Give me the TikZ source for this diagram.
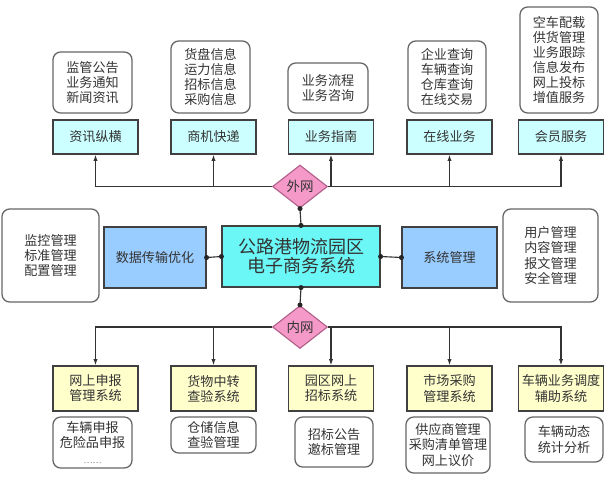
\documentclass[tikz,border=0pt]{standalone}
\usepackage{fontspec}
\setmainfont{Noto Sans CJK SC}
\usetikzlibrary{shapes.geometric,arrows.meta}
\definecolor{headcyan}{HTML}{CCFFFF}
\definecolor{maincyan}{HTML}{6CF7F7}
\definecolor{sideblue}{HTML}{99CCFF}
\definecolor{netpink}{HTML}{F59AC8}
\definecolor{netedge}{HTML}{B0608A}
\definecolor{subyellow}{HTML}{FFFFCC}

\begin{document}
\begin{tikzpicture}[x=0.025cm,y=-0.025cm,
  every node/.style={text=black!80},
  listbox/.style={draw=black!60,line width=0.9pt,rounded corners=5.5pt,fill=white,align=center,inner sep=0pt,font=\fontsize{9.3}{10.7}\selectfont},
  headbox/.style={draw=black!75,line width=0.8pt,fill=headcyan,minimum width=2.125cm,minimum height=0.85cm,inner sep=0pt,align=center,font=\fontsize{9.3}{10.7}\selectfont},
  subbox/.style={headbox,fill=subyellow,minimum height=1.125cm},
  sidebox/.style={draw=black!75,line width=0.8pt,fill=sideblue,minimum height=1.525cm,inner sep=0pt,font=\fontsize{9.3}{10.7}\selectfont},
  netnode/.style={diamond,draw=netedge,line width=0.8pt,fill=netpink,minimum width=1.375cm,minimum height=1.075cm,inner sep=0pt,font=\fontsize{9.6}{10.7}\selectfont},
  link/.style={draw=black!80,line width=0.8pt},
  arr/.style={link,-{Latex[length=4.5pt,width=3pt]}},
  dot/.style={fill=black!85}]

\useasboundingbox (0,0) rectangle (610,480);

% top row
\node[listbox,minimum width=1.975cm,minimum height=1.525cm] (t1) at (92.5,82.5) {监管公告\\业务通知\\新闻资讯};
\node[listbox,minimum width=1.975cm,minimum height=1.8cm] (t2) at (210.5,77) {货盘信息\\运力信息\\招标信息\\采购信息};
\node[listbox,minimum width=2cm,minimum height=1.25cm] (t3) at (328,88) {业务流程\\业务咨询};
\node[listbox,minimum width=1.95cm,minimum height=1.8cm] (t4) at (447,77) {企业查询\\车辆查询\\仓库查询\\在线交易};
\node[listbox,minimum width=1.95cm,minimum height=2.65cm] (t5) at (559,60) {空车配载\\供货管理\\业务跟踪\\信息发布\\网上投标\\增值服务};

\foreach \n/\x/\t in {h1/95.5/资讯纵横,h2/213.5/商机快递,h3/331/业务指南,h4/449.5/在线业务,h5/561/会员服务}
   \node[headbox] (\n) at (\x,137) {\t};

% middle row
\node[netnode] (wai) at (300,186.5) {外网};
\node[draw=black!75,line width=0.8pt,fill=maincyan,minimum width=3.95cm,minimum height=1.525cm,inner sep=0pt,align=center,font=\fontsize{12.8}{13.4}\selectfont] (main) at (301,256.5) {公路港物流园区\\电子商务系统};
\node[sidebox,minimum width=2.55cm] (dsync) at (155,257.5) {数据传输优化};
\node[sidebox,minimum width=2.375cm] (sysm) at (449.5,257.5) {系统管理};
\node[listbox,minimum width=2.425cm,minimum height=2.325cm] (lm) at (50.5,255.5) {监控管理\\标准管理\\配置管理};
\node[listbox,minimum width=2.375cm,minimum height=2.325cm] (rm) at (550.5,255.5) {用户管理\\内容管理\\报文管理\\安全管理};
\node[netnode] (nei) at (300,327) {内网};

% bottom row
\node[subbox] (bh1) at (95.5,388.5) {网上申报\\管理系统};
\node[subbox] (bh2) at (213.5,388.5) {货物中转\\查验系统};
\node[subbox] (bh3) at (331,388.5) {园区网上\\招标系统};
\node[subbox] (bh4) at (449.5,388.5) {市场采购\\管理系统};
\node[subbox] (bh5) at (561,388.5) {车辆业务调度\\辅助系统};

\node[listbox,minimum width=1.975cm,minimum height=1.275cm] (bb1) at (92.5,442.5) {车辆申报\\危险品申报\\{\fontsize{6}{8}\selectfont\color{black!50}……}};
\node[listbox,minimum width=2.125cm,minimum height=0.9cm] (bb2) at (213.5,435) {仓储信息\\查验管理};
\node[listbox,minimum width=1.95cm,minimum height=1.25cm] (bb3) at (334,442) {招标公告\\邀标管理};
\node[listbox,minimum width=2.1cm,minimum height=1.4cm] (bb4) at (448,445) {供应商管理\\采购清单管理\\网上议价};
\node[listbox,minimum width=1.95cm,minimum height=1.125cm] (bb5) at (564,439.5) {车辆动态\\统计分析};

% connectors
\foreach \h in {h1,h2}
   \draw[arr] (wai.west) -| (\h.south);
\foreach \h in {h3,h4,h5}
   \draw[arr] (wai.east) -| (\h.south);
\foreach \h in {bh1,bh2}
   \draw[arr] (nei.west) -| (\h.north);
\foreach \h in {bh3,bh4,bh5}
   \draw[arr] (nei.east) -| (\h.north);

\draw[link] (wai.south) -- (main.north);
\draw[link] (main.south) -- (nei.north);
\draw[link] (dsync.east) -- (main.west);
\draw[link] (main.east) -- (sysm.west);
\foreach \p in {wai.south,main.north,main.south,nei.north,dsync.east,main.west,main.east,sysm.west}
   \fill[dot] (\p) circle (1.8pt);

\end{tikzpicture}
\end{document}
